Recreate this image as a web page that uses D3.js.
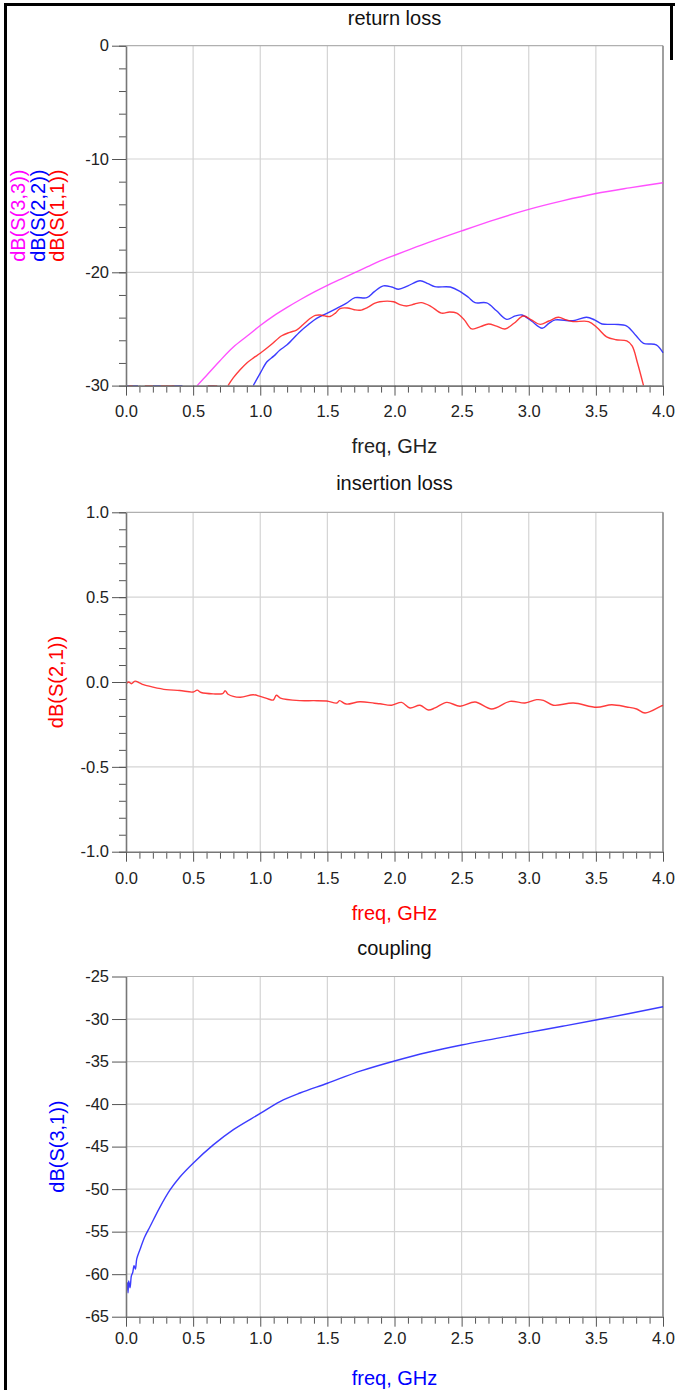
<!DOCTYPE html>
<html>
<head>
<meta charset="utf-8">
<script src="https://cdn.jsdelivr.net/npm/d3@7"></script>
<style>
  html, body { margin: 0; padding: 0; background: #fff; }
  svg { display: block; }
  text { font-family: "Liberation Sans", Arial, sans-serif; }
</style>
</head>
<body>
<svg id="chart" width="675" height="1390"></svg>
<script>
// ---------------- DATA ----------------
const xTickValues = [0, 0.5, 1, 1.5, 2, 2.5, 3, 3.5, 4];
const xTickLabels = ["0.0", "0.5", "1.0", "1.5", "2.0", "2.5", "3.0", "3.5", "4.0"];

const rlTickValues = [0, -10, -20, -30];
const rlTickLabels = ["0", "-10", "-20", "-30"];
const ilTickValues = [1, 0.5, 0, -0.5, -1];
const ilTickLabels = ["1.0", "0.5", "0.0", "-0.5", "-1.0"];
const cpTickValues = [-25, -30, -35, -40, -45, -50, -55, -60, -65];
const cpTickLabels = ["-25", "-30", "-35", "-40", "-45", "-50", "-55", "-60", "-65"];

// return loss: dB(S(3,3)) [freq GHz, dB]  (values below -30 are off-scale)
const s33 = [[0.0,-31],[0.52,-31],[0.53,-30],[0.6,-29.1],[0.7,-27.8],[0.8,-26.6],[0.9,-25.65],[1.0,-24.7],
  [1.1,-23.85],[1.2,-23.1],[1.3,-22.4],[1.4,-21.75],[1.5,-21.15],[1.6,-20.6],[1.7,-20.05],[1.8,-19.5],
  [1.893,-19.0],[2.0,-18.5],[2.2,-17.6],[2.5,-16.35],[2.75,-15.35],[3.0,-14.45],[3.25,-13.7],
  [3.5,-13.05],[3.75,-12.55],[4.0,-12.1]];

// return loss: dB(S(2,2))
const s22 = [[0.0,-30],[0.09,-30],[0.1,-31],[0.19,-31],[0.2,-30],[0.26,-30],[0.27,-31],[0.33,-31],
  [0.34,-30],[0.42,-30],[0.43,-31],[0.6,-31],[0.61,-30],[0.66,-30],[0.67,-31],[0.94,-31],
  [0.948,-30],[1.0,-28.9],[1.05,-27.9],[1.1,-27.4],[1.147,-26.86],[1.2,-26.4],[1.296,-25.24],[1.36,-24.6],
  [1.42,-24.06],[1.5,-23.6],[1.57,-23.18],[1.64,-22.75],[1.706,-22.24],[1.794,-22.24],[1.85,-21.7],
  [1.917,-21.2],[1.98,-21.3],[2.03,-21.5],[2.1,-21.2],[2.19,-20.74],[2.25,-21.0],[2.30,-21.27],
  [2.416,-21.3],[2.49,-21.7],[2.55,-22.2],[2.60,-22.68],[2.687,-22.7],[2.76,-23.4],[2.836,-24.15],
  [2.9,-23.85],[2.95,-23.77],[3.02,-24.3],[3.1,-24.94],[3.15,-24.5],[3.197,-24.2],[3.33,-24.27],
  [3.43,-23.97],[3.49,-24.2],[3.546,-24.56],[3.64,-24.6],[3.73,-24.74],[3.8,-25.6],[3.855,-26.27],
  [3.95,-26.4],[4.0,-27.1]];

// return loss: dB(S(1,1))
const s11 = [[0.02,-30],[0.05,-30],[0.06,-31],[0.13,-31],[0.14,-30],[0.2,-30],[0.21,-31],[0.25,-31],
  [0.26,-30],[0.36,-30],[0.37,-31],[0.6,-31],[0.61,-30],[0.68,-30],[0.69,-31],[0.75,-31],
  [0.76,-30],[0.8,-29.3],[0.85,-28.6],[0.9,-28.0],[0.95,-27.55],[1.0,-27.15],[1.08,-26.4],[1.16,-25.6],
  [1.22,-25.3],[1.27,-25.1],[1.32,-24.6],[1.373,-24.06],[1.41,-23.8],[1.447,-23.77],[1.48,-23.85],
  [1.52,-23.9],[1.56,-23.6],[1.594,-23.2],[1.65,-23.15],[1.7,-23.3],[1.743,-23.35],[1.8,-23.1],
  [1.85,-22.75],[1.89,-22.6],[1.993,-22.6],[2.04,-22.85],[2.09,-22.97],[2.15,-22.8],[2.2,-22.68],
  [2.27,-23.0],[2.35,-23.6],[2.41,-23.5],[2.464,-23.6],[2.52,-24.2],[2.576,-25.0],[2.64,-24.8],
  [2.7,-24.56],[2.76,-24.75],[2.823,-25.0],[2.89,-24.5],[2.96,-23.86],[3.02,-24.2],[3.085,-24.6],
  [3.15,-24.3],[3.22,-23.97],[3.28,-24.2],[3.33,-24.35],[3.445,-24.35],[3.51,-24.9],[3.58,-25.7],
  [3.65,-25.95],[3.73,-26.06],[3.77,-26.5],[3.81,-28.0],[3.855,-30]];

// insertion loss: dB(S(2,1))
const s21 = [[0.0,-0.01],[0.02,0.0],[0.04,-0.01],[0.067,0.005],[0.1,-0.005],[0.13,-0.016],[0.2,-0.03],
  [0.3,-0.045],[0.4,-0.05],[0.5,-0.059],[0.53,-0.048],[0.56,-0.062],[0.65,-0.07],[0.72,-0.068],
  [0.74,-0.052],[0.76,-0.072],[0.85,-0.09],[0.948,-0.075],[1.0,-0.085],[1.06,-0.1],[1.097,-0.106],
  [1.12,-0.078],[1.15,-0.095],[1.296,-0.11],[1.4,-0.11],[1.495,-0.112],[1.57,-0.124],[1.59,-0.11],
  [1.64,-0.13],[1.743,-0.116],[1.85,-0.125],[1.892,-0.128],[1.979,-0.137],[2.053,-0.12],[2.115,-0.153],
  [2.19,-0.137],[2.252,-0.165],[2.302,-0.153],[2.389,-0.12],[2.488,-0.143],[2.6,-0.118],[2.724,-0.159],
  [2.86,-0.114],[2.972,-0.124],[3.059,-0.104],[3.109,-0.108],[3.183,-0.137],[3.332,-0.124],
  [3.506,-0.149],[3.618,-0.134],[3.73,-0.147],[3.804,-0.159],[3.866,-0.183],[3.991,-0.14],[4.0,-0.138]];

// coupling: dB(S(3,1))
const s31 = [[0.005,-61.8],[0.01,-61.0],[0.015,-62.2],[0.02,-60.8],[0.03,-61.6],[0.04,-60.2],
  [0.05,-59.8],[0.06,-59.0],[0.07,-59.4],[0.08,-58.2],[0.104,-57.1],[0.14,-55.6],[0.179,-54.4],
  [0.25,-52.2],[0.328,-50.1],[0.4,-48.6],[0.5,-46.95],[0.65,-44.8],[0.8,-43.0],[1.0,-41.1],
  [1.147,-39.7],[1.296,-38.7],[1.5,-37.55],[1.75,-36.1],[2.0,-34.93],[2.25,-33.9],[2.5,-33.05],
  [2.75,-32.3],[3.0,-31.57],[3.25,-30.85],[3.5,-30.12],[3.75,-29.35],[4.0,-28.56]];

// ---------------- LAYOUT ----------------
const svg = d3.select("#chart");
const X0 = 126, X1 = 663;
const x = d3.scaleLinear().domain([0, 4]).range([X0, X1]);
const FONT_TICK = "16.5px", FONT_TITLE = "20px", FONT_LABEL = "20px";

const panels = [
  { title: "return loss", top: 45.7, bottom: 385.6, domain: [-30, 0],
    ticks: rlTickValues, labels: rlTickLabels, minor: d3.range(-30, 0.01, 2),
    series: [{d: s33, c: "#ff33ff"}, {d: s22, c: "#1a1aff"}, {d: s11, c: "#ff1a1a"}],
    ylabels: [{t: "dB(S(3,3))", c: "#ff00ff", x: 25}, {t: "dB(S(2,2))", c: "#0000ff", x: 44.5}, {t: "dB(S(1,1))", c: "#ff0000", x: 64}],
    xlabColor: "#222", tickY: 411, xlabY: 446, titleY: 18 },
  { title: "insertion loss", top: 512.3, bottom: 851.7, domain: [-1, 1],
    ticks: ilTickValues, labels: ilTickLabels, minor: d3.range(-10, 10.01, 1).map(v => v / 10),
    series: [{d: s21, c: "#ff1a1a"}],
    ylabels: [{t: "dB(S(2,1))", c: "#ff0000", x: 63}],
    xlabColor: "#ff0000", tickY: 878, xlabY: 913, titleY: 483 },
  { title: "coupling", top: 976.5, bottom: 1316.7, domain: [-65, -25],
    ticks: cpTickValues, labels: cpTickLabels, minor: null,
    series: [{d: s31, c: "#1a1aff"}],
    ylabels: [{t: "dB(S(3,1))", c: "#0000ff", x: 64}],
    xlabColor: "#0000ff", tickY: 1338, xlabY: 1378, titleY: 948 }
];

panels.forEach((p, i) => {
  const y = d3.scaleLinear().domain(p.domain).range([p.bottom, p.top]).clamp(true);
  const g = svg.append("g");

  // grid
  g.append("g").selectAll("line").data(xTickValues.slice(1, -1)).join("line")
    .attr("x1", d => x(d)).attr("x2", d => x(d)).attr("y1", p.top).attr("y2", p.bottom)
    .attr("stroke", "#d4d4d4").attr("stroke-width", 1.2);
  g.append("g").selectAll("line").data(p.ticks.filter(v => v !== p.domain[0] && v !== p.domain[1])).join("line")
    .attr("x1", X0).attr("x2", X1).attr("y1", d => y(d)).attr("y2", d => y(d))
    .attr("stroke", "#d4d4d4").attr("stroke-width", 1.2);

  // frame top/right
  g.append("line").attr("x1", X0).attr("x2", X1).attr("y1", p.top).attr("y2", p.top)
    .attr("stroke", "#b0b0b0").attr("stroke-width", 1.2);
  g.append("line").attr("x1", X1).attr("x2", X1).attr("y1", p.top).attr("y2", p.bottom)
    .attr("stroke", "#888").attr("stroke-width", 1.6);

  // clip
  const cid = "clip" + i;
  svg.append("clipPath").attr("id", cid).append("rect")
    .attr("x", X0).attr("y", p.top - 1).attr("width", X1 - X0 + 1).attr("height", p.bottom - p.top + 2);

  // series
  const line = d3.line()
    .defined(d => d[1] >= p.domain[0] - 1e-9)
    .x(d => x(d[0])).y(d => y(d[1]))
    .curve(d3.curveCatmullRom.alpha(0.5));
  p.series.forEach(s => {
    g.append("path").datum(s.d).attr("d", line).attr("clip-path", `url(#${cid})`)
      .attr("fill", "none").attr("stroke", s.c).attr("stroke-width", 1.4)
      .attr("stroke-opacity", 0.85).attr("stroke-linejoin", "round");
  });

  // x axis minor
  const xMinor = d3.range(0, 40.01, 1).map(v => v / 10).filter(v => Math.abs(v * 2 - Math.round(v * 2)) > 1e-6);
  g.append("g").attr("transform", `translate(0,${p.bottom})`)
    .call(d3.axisBottom(x).tickValues(xMinor).tickSize(7).tickFormat(""))
    .call(a => a.select(".domain").remove())
    .call(a => a.selectAll("line").attr("stroke", "#555"));
  // x axis major
  g.append("g").attr("transform", `translate(0,${p.bottom})`)
    .call(d3.axisBottom(x).tickValues(xTickValues).tickSize(10).tickSizeOuter(0).tickPadding(8)
      .tickFormat((d, k) => xTickLabels[k]))
    .call(a => a.select(".domain").attr("stroke", "#777").attr("stroke-width", 1.6))
    .call(a => a.selectAll("line").attr("stroke", "#555"))
    .call(a => a.selectAll("text").attr("font-size", FONT_TICK).attr("fill", "#222")
      .attr("font-family", "Liberation Sans, Arial, sans-serif").attr("dy", null)
      .attr("y", p.tickY - p.bottom).attr("dominant-baseline", "central"));

  // y axis minor
  if (p.minor) {
    g.append("g").attr("transform", `translate(${X0},0)`)
      .call(d3.axisLeft(y).tickValues(p.minor).tickSize(7).tickFormat(""))
      .call(a => a.select(".domain").remove())
      .call(a => a.selectAll("line").attr("stroke", "#555"));
  }
  // y axis major
  g.append("g").attr("transform", `translate(${X0},0)`)
    .call(d3.axisLeft(y).tickValues(p.ticks).tickSize(14).tickSizeOuter(0).tickPadding(3)
      .tickFormat((d, k) => p.labels[k]))
    .call(a => a.select(".domain").attr("stroke", "#777").attr("stroke-width", 1.6))
    .call(a => a.selectAll("line").attr("stroke", "#555"))
    .call(a => a.selectAll("text").attr("font-size", FONT_TICK).attr("fill", "#222")
      .attr("font-family", "Liberation Sans, Arial, sans-serif"));

  // title
  g.append("text").attr("x", (X0 + X1) / 2).attr("y", p.titleY).attr("text-anchor", "middle")
    .attr("dominant-baseline", "central").attr("font-size", FONT_TITLE).attr("fill", "#111").text(p.title);
  // x label
  g.append("text").attr("x", (X0 + X1) / 2).attr("y", p.xlabY).attr("text-anchor", "middle")
    .attr("dominant-baseline", "central").attr("font-size", FONT_TITLE).attr("fill", p.xlabColor).text("freq, GHz");
  // y labels
  const cy = (p.top + p.bottom) / 2;
  p.ylabels.forEach(l => {
    g.append("text").attr("transform", `translate(${l.x},${cy}) rotate(-90)`)
      .attr("text-anchor", "middle").attr("font-size", FONT_LABEL).attr("fill", l.c).text(l.t);
  });
});

// outer black frame (left and top)
svg.append("line").attr("x1", 5.5).attr("x2", 5.5).attr("y1", 3).attr("y2", 1390).attr("stroke", "#000").attr("stroke-width", 3);
svg.append("line").attr("x1", 4).attr("x2", 675).attr("y1", 4.5).attr("y2", 4.5).attr("stroke", "#000").attr("stroke-width", 3);
svg.append("line").attr("x1", 671.5).attr("x2", 671.5).attr("y1", 3).attr("y2", 60).attr("stroke", "#000").attr("stroke-width", 3);
</script>
</body>
</html>
